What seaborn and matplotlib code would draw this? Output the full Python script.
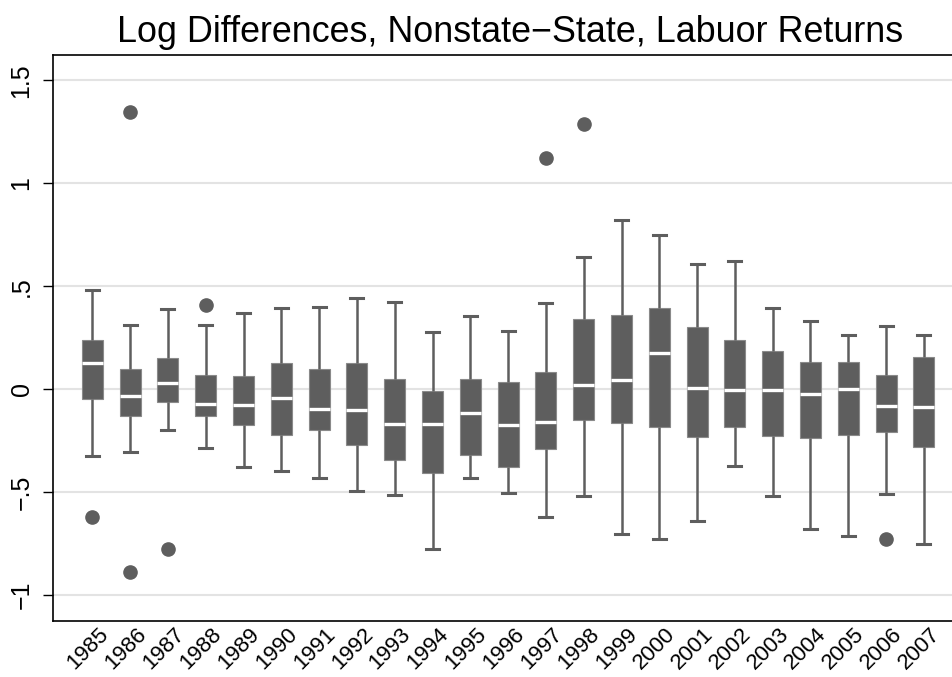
import numpy as np
import pandas as pd
import matplotlib
matplotlib.use("Agg")
import matplotlib.pyplot as plt
import matplotlib.transforms as mtransforms
import seaborn as sns

years = [str(y) for y in range(1985, 2008)]

# box statistics (lower whisker, q1, median, q3, upper whisker)
lo_whisk = [-0.325, -0.306, -0.199, -0.286, -0.379, -0.398, -0.432, -0.493, -0.515, -0.777, -0.430, -0.503,
            -0.623, -0.519, -0.702, -0.728, -0.642, -0.374, -0.521, -0.681, -0.715, -0.510, -0.751]
q1 = [-0.050, -0.131, -0.061, -0.128, -0.176, -0.223, -0.197, -0.272, -0.343, -0.409, -0.322, -0.379,
      -0.290, -0.149, -0.163, -0.184, -0.233, -0.186, -0.227, -0.236, -0.225, -0.209, -0.280]
median = [0.128, -0.031, 0.031, -0.074, -0.076, -0.044, -0.095, -0.103, -0.168, -0.168, -0.118, -0.173,
          -0.160, 0.018, 0.045, 0.178, 0.005, -0.005, -0.005, -0.024, 0.003, -0.083, -0.087]
q3 = [0.238, 0.099, 0.150, 0.071, 0.065, 0.128, 0.100, 0.129, 0.047, -0.010, 0.047, 0.037,
      0.081, 0.343, 0.359, 0.392, 0.301, 0.238, 0.183, 0.131, 0.134, 0.071, 0.154]
hi_whisk = [0.480, 0.314, 0.390, 0.314, 0.372, 0.392, 0.398, 0.441, 0.421, 0.278, 0.356, 0.282,
            0.419, 0.641, 0.820, 0.748, 0.607, 0.621, 0.392, 0.332, 0.264, 0.309, 0.264]
outliers = {
    "1985": [-0.623],
    "1986": [1.345, -0.887],
    "1987": [-0.775],
    "1988": [0.408],
    "1997": [1.121],
    "1998": [1.286],
    "2006": [-0.730],
}

# long table: each stat repeated so the quartiles land exactly on the read values
rows = []
for i, yr in enumerate(years):
    for v in (lo_whisk[i], q1[i], median[i], q3[i], hi_whisk[i]):
        rows += [(yr, v)] * 5
    rows += [(yr, v) for v in outliers.get(yr, [])]
df = pd.DataFrame(rows, columns=["year", "value"])

grey = "#5e5e5e"
plt.rcParams["font.family"] = ["Liberation Sans", "DejaVu Sans"]

fig = plt.figure(figsize=(9.53, 6.77), dpi=100)
ax = fig.add_axes([53 / 953, 1 - 621 / 677, 900 / 953, (621 - 55) / 677])

sns.boxplot(data=df, x="year", y="value", order=years, ax=ax, width=0.56, whis=1.5,
            color=grey, linecolor=grey, linewidth=1.6, saturation=1,
            capwidths=0.34,
            boxprops=dict(facecolor=grey, edgecolor="#8a8a8a", linewidth=0.8),
            medianprops=dict(color="white", linewidth=2.4),
            whiskerprops=dict(color=grey, linewidth=1.8),
            capprops=dict(color=grey, linewidth=2.2),
            flierprops=dict(marker="o", markerfacecolor=grey, markeredgecolor=grey, markersize=9.5))

ax.set_xlim(-1.04, 22.77)
ax.set_ylim(-1.126, 1.623)
ax.set_yticks([-1, -0.5, 0, 0.5, 1, 1.5])
ax.set_yticklabels(["\u22121", "\u2212.5", "0", ".5", "1", "1.5"], rotation=90, va="center", fontsize=18)
ax.yaxis.grid(True, color="#e3e3e3", linewidth=1.5)
ax.set_axisbelow(True)
ax.tick_params(axis="y", length=7, width=1, pad=7)
ax.tick_params(axis="x", length=0, pad=2)
ax.set_xticks(range(len(years)))
ax.set_xticklabels(years, rotation=45, ha="right", rotation_mode="anchor", fontsize=16)
shift = mtransforms.ScaledTranslation(4 / 72, 0, fig.dpi_scale_trans)
for lab in ax.get_xticklabels():
    lab.set_transform(lab.get_transform() + shift)
ax.set_xlabel("")
ax.set_ylabel("")
for s in ("left", "bottom", "top"):
    ax.spines[s].set_color("black")
    ax.spines[s].set_linewidth(1.2)
ax.spines["right"].set_visible(False)

fig.text(510 / 953, 1 - 32 / 677, "Log Differences, Nonstate\u2212State, Labuor Returns",
         ha="center", va="center", fontsize=25.8)

fig.savefig("out.png", dpi=100)
